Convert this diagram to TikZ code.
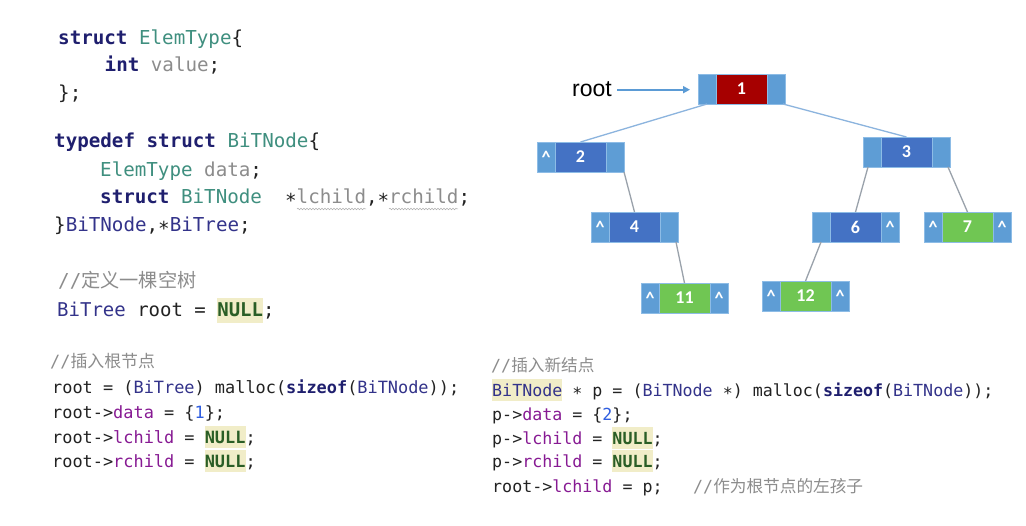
\documentclass[tikz,border=0pt]{standalone}
\usepackage{fontspec}
\usepackage{xcolor}
\usetikzlibrary{arrows.meta,decorations.pathmorphing}
\setmonofont{DejaVu Sans Mono}
\newfontfamily\cjk{Noto Sans CJK SC}
\newfontfamily\labfont{Liberation Sans}
\newfontfamily\nodefont{Carlito}

\definecolor{kwc}{HTML}{1F1F6E}
\definecolor{tyc}{HTML}{3F8F7F}
\definecolor{tbc}{HTML}{33338A}
\definecolor{fdc}{HTML}{871A93}
\definecolor{gyc}{HTML}{8C8C8C}
\definecolor{nmc}{HTML}{2F5EE0}
\definecolor{nlc}{HTML}{2A5E26}
\definecolor{hlc}{HTML}{F1EDC8}
\definecolor{txc}{HTML}{222222}
\definecolor{lb}{HTML}{5E9DD5}
\definecolor{lbd}{HTML}{8DBCE6}
\definecolor{db}{HTML}{4472C4}
\definecolor{rd}{HTML}{A60000}
\definecolor{gn}{HTML}{70C653}
\definecolor{edgeb}{HTML}{8CB4DE}
\definecolor{edgeg}{HTML}{9AA2AB}
\definecolor{arrc}{HTML}{5B9BD5}

\newcommand\kw[1]{\textcolor{kwc}{\bfseries #1}}
\newcommand\ty[1]{\textcolor{tyc}{#1}}
\newcommand\tb[1]{\textcolor{tbc}{#1}}
\newcommand\fd[1]{\textcolor{fdc}{#1}}
\newcommand\gy[1]{\textcolor{gyc}{#1}}
\newcommand\nm[1]{\textcolor{nmc}{#1}}
\newcommand\as{\raisebox{-0.2em}{*}}
\newsavebox\hlbox
\newcommand\hl[1]{\sbox\hlbox{#1}\makebox[0pt][l]{\textcolor{hlc}{\rule[-0.3em]{\wd\hlbox}{1.32em}}}\usebox\hlbox}
\newcommand\nl{\hl{\textcolor{nlc}{\bfseries NULL}}}

\newcommand\bnode[7]{%
  \node[cell, anchor=north west] (#1l) at (#2,#3) {#6};
  \node[core, fill=#4, anchor=north west] (#1c) at (#1l.north east) {#5};
  \node[cell, anchor=north west] (#1r) at (#1c.north east) {#7};
}

\begin{document}
\begin{tikzpicture}[x=1bp,y=-1bp,
  codeA/.style={anchor=base west, inner sep=0pt, text=txc, font=\ttfamily\fontsize{19.2bp}{22bp}\selectfont},
  codeB/.style={anchor=base west, inner sep=0pt, text=txc, font=\ttfamily\fontsize{16.9bp}{20bp}\selectfont},
  codeC/.style={anchor=base west, inner sep=0pt, text=txc, font=\ttfamily\fontsize{16.65bp}{20bp}\selectfont},
  cellbase/.style={minimum height=30bp, inner sep=0pt, outer sep=0pt, draw=lbd, line width=0.7bp, text=white,
    font=\nodefont\bfseries\fontsize{18bp}{18bp}\selectfont},
  cell/.style={cellbase, fill=lb, minimum width=18bp},
  core/.style={cellbase, minimum width=51bp},
  edgeup/.style={draw=edgeb, line width=1.3bp},
  edgelo/.style={draw=edgeg, line width=1.3bp},
  wavy/.style={draw=gyc!70, line width=0.5bp, decorate, decoration={snake, amplitude=0.8bp, segment length=3bp}},
  rootarrow/.style={draw=arrc, line width=1.8bp, -{Triangle[length=7bp,width=7bp]}, shorten >=8bp}
]
\fill[white] (0,0) rectangle (1026,526);
\useasboundingbox (0,0) rectangle (1026,526);

% ---------- top code block ----------
\node[codeA] (c1) at (58,45) {\kw{struct} \ty{ElemType}\{};
\node[codeA] (c2) at (104.5,72) {\kw{int} \gy{value};};
\node[codeA] (c3) at (58,100) {\};};
\node[codeA] (c4) at (54,148) {\kw{typedef} \kw{struct} \ty{BiTNode}\{};
\node[codeA] (c5) at (100,177) {\ty{ElemType} \gy{data};};
\node[codeA] (c6) at (100,204) {\kw{struct} \ty{BiTNode}\ \ \as\gy{lchild},\as\gy{rchild};};
\node[codeA] (c7) at (54,232) {\}\tb{BiTNode},\as\tb{BiTree};};
\draw[wavy] (297,209) -- (366,209);
\draw[wavy] (389,209) -- (458,209);

\node[codeA] (d1) at (58,288) {\gy{//\cjk 定义一棵空树}};
\node[codeA, font=\ttfamily\fontsize{19bp}{22bp}\selectfont] (d2) at (57,317) {\tb{BiTree} root = \nl;};

% ---------- bottom left block ----------
\node[codeB] (e0) at (50,368) {\gy{//\cjk 插入根节点}};
\node[codeB] (e1) at (52,393) {root = (\tb{BiTree}) malloc(\kw{sizeof}(\tb{BiTNode}));};
\node[codeB] (e2) at (52,418) {root->\fd{data} = \{\nm{1}\};};
\node[codeB] (e3) at (52,443) {root->\fd{lchild} = \nl;};
\node[codeB] (e4) at (52,467) {root->\fd{rchild} = \nl;};

% ---------- bottom right block ----------
\node[codeC] (f0) at (491,372) {\gy{//\cjk 插入新结点}};
\node[codeC] (f1) at (492,396) {\hl{\tb{BiTNode}} \as{} p = (\tb{BiTNode} \as) malloc(\kw{sizeof}(\tb{BiTNode}));};
\node[codeC] (f2) at (492,420) {p->\fd{data} = \{\nm{2}\};};
\node[codeC] (f3) at (492,444) {p->\fd{lchild} = \nl;};
\node[codeC] (f4) at (492,467) {p->\fd{rchild} = \nl;};
\node[codeC] (f5) at (492,492) {root->\fd{lchild} = p;};
\node[codeC] (f6) at (693,492) {\gy{//\cjk 作为根节点的左孩子}};

% ---------- tree ----------
\bnode{n1}{698}{74}{rd}{1}{}{}
\bnode{n2}{537}{142}{db}{2}{\^{}}{}
\bnode{n3}{863}{137}{db}{3}{}{}
\bnode{n4}{591}{212}{db}{4}{\^{}}{}
\bnode{n6}{812}{212}{db}{6}{}{\^{}}
\bnode{n7}{924}{212}{gn}{7}{\^{}}{\^{}}
\bnode{n11}{641}{283}{gn}{11}{\^{}}{\^{}}
\bnode{n12}{762}{281}{gn}{12}{\^{}}{\^{}}

\draw[edgeup] (n1l.south) -- (n2c.north);
\draw[edgeup] ([xshift=-2bp]n1r.south east) -- (n3c.north);
\draw[edgelo] (n2r.south east) -- (n4c.north);
\draw[edgelo] ([xshift=-2bp]n4r.south east) -- (n11c.north);
\draw[edgelo] ([xshift=-4bp]n3l.south) -- (n6c.north);
\draw[edgelo] ([xshift=-2bp]n3r.south east) -- (n7c.north);
\draw[edgelo] (n6l.south) -- (n12c.north);

\node[anchor=base west, inner sep=2bp, text=black, font=\labfont\fontsize{23bp}{23bp}\selectfont] (rootlab) at (570,97) {root};
\draw[rootarrow] ([xshift=3bp]rootlab.east) -- (rootlab.east -| n1l.west);
\end{tikzpicture}
\end{document}
